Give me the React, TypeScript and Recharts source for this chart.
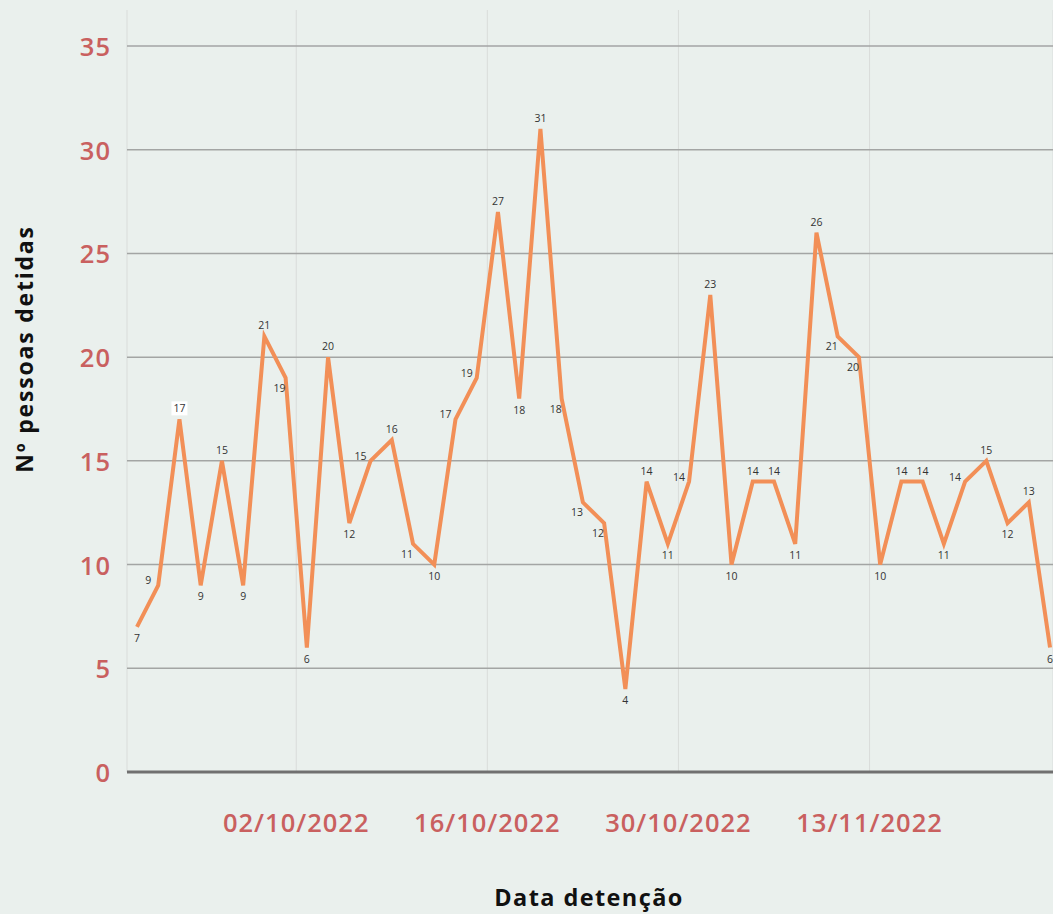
import { LineChart, Line, XAxis, YAxis, CartesianGrid, LabelList, Label } from 'recharts';

// pessoas detidas por dia de detenção (ordem cronológica)
const detidos = [
  7, 9, 17, 9, 15, 9, 21, 19, 6, 20, 12, 15, 16, 11, 10, 17, 19, 27, 18, 31, 18, 13,
  12, 4, 14, 11, 14, 23, 10, 14, 14, 11, 26, 21, 20, 10, 14, 14, 11, 14, 15, 12, 13, 6,
];

// date labels shown on the axis and where they fall between the day indexes
const dateLabels = ['02/10/2022', '16/10/2022', '30/10/2022', '13/11/2022'];
const dateTickPos = [7.5, 16.5, 25.5, 34.5];

const yTicks = [0, 5, 10, 15, 20, 25, 30, 35];

const data = detidos.map((v, i) => ({ idx: i, value: v }));

const FONT = '"Open Sans", sans-serif';
const RED = '#c9605f';
const BOXED = 2; // the one label drawn on a white box

const PointLabel = (props: any) => {
  const { x, y, value, index } = props;
  const prev = index > 0 ? detidos[index - 1] : undefined;
  const next = index < detidos.length - 1 ? detidos[index + 1] : undefined;
  const geP = prev === undefined || value >= prev;
  const geN = next === undefined || value >= next;
  const leP = prev === undefined || value <= prev;
  const leN = next === undefined || value <= next;
  let dx = 0;
  let dy = 0;
  if (geP && geN) dy = -11;
  else if (leP && leN) dy = 11;
  else if (prev !== undefined && value > prev) { dx = -10; dy = -5; }
  else { dx = -6; dy = 10; }
  return (
    <g>
      {index === BOXED && (
        <rect x={x + dx - 8} y={y + dy - 7} width={16} height={14} fill="#ffffff" />
      )}
      <text
        x={x + dx}
        y={y + dy}
        textAnchor="middle"
        dominantBaseline="central"
        fontSize={10.5}
        fontFamily={FONT}
        fill="#333333"
      >
        {value}
      </text>
    </g>
  );
};

const XTick = (props: any) => {
  const { x, payload } = props;
  const i = dateTickPos.indexOf(payload.value);
  return (
    <text x={x} y={822} textAnchor="middle" dominantBaseline="central" fontSize={25.5} fontWeight={600} fontFamily={FONT} letterSpacing={1} fill={RED}>
      {dateLabels[i]}
    </text>
  );
};

const YTick = (props: any) => {
  const { y, payload } = props;
  return (
    <text x={111} y={y} textAnchor="end" dominantBaseline="central" fontSize={25.5} fontWeight={600} fontFamily={FONT} letterSpacing={1} fill={RED}>
      {payload.value}
    </text>
  );
};

const YTitle = () => (
  <text
    x={24}
    y={349}
    transform="rotate(-90 24 349)"
    textAnchor="middle"
    dominantBaseline="central"
    fontSize={23}
    fontWeight={700}
    letterSpacing={1.8}
    fontFamily={FONT}
    fill="#111111"
  >
    Nº pessoas detidas
  </text>
);

const XTitle = () => (
  <text
    x={589}
    y={897}
    textAnchor="middle"
    dominantBaseline="central"
    fontSize={23.5}
    fontWeight={700}
    letterSpacing={1.4}
    fontFamily={FONT}
    fill="#111111"
  >
    Data detenção
  </text>
);

export default function App() {
  return (
    <div style={{ position: 'absolute', left: 0, top: 0, width: 1053, height: 914, background: '#eaf0ed' }}>
      <LineChart width={1053} height={914} data={data} margin={{ top: 10, right: 0, bottom: 0, left: 0 }}>
        <CartesianGrid horizontal={false} stroke="#d9dcda" strokeWidth={1} />
        <CartesianGrid vertical={false} stroke="#a3a5a4" strokeWidth={1.5} horizontalValues={[5, 10, 15, 20, 25, 30, 35]} />
        <XAxis
          type="number"
          dataKey="idx"
          domain={[-0.47, 43.14]}
          ticks={dateTickPos}
          allowDataOverflow
          height={142}
          tickLine={false}
          axisLine={{ stroke: '#707070', strokeWidth: 3 }}
          tick={<XTick />}
        >
          <Label content={<XTitle />} />
        </XAxis>
        <YAxis
          type="number"
          domain={[0, 36.735]}
          ticks={yTicks}
          width={127}
          axisLine={false}
          tickLine={false}
          tick={<YTick />}
        >
          <Label content={<YTitle />} />
        </YAxis>
        <Line
          type="linear"
          dataKey="value"
          stroke="#f28f57"
          strokeWidth={4}
          dot={false}
          isAnimationActive={false}
        >
          <LabelList dataKey="value" content={<PointLabel />} />
        </Line>
      </LineChart>
    </div>
  );
}
